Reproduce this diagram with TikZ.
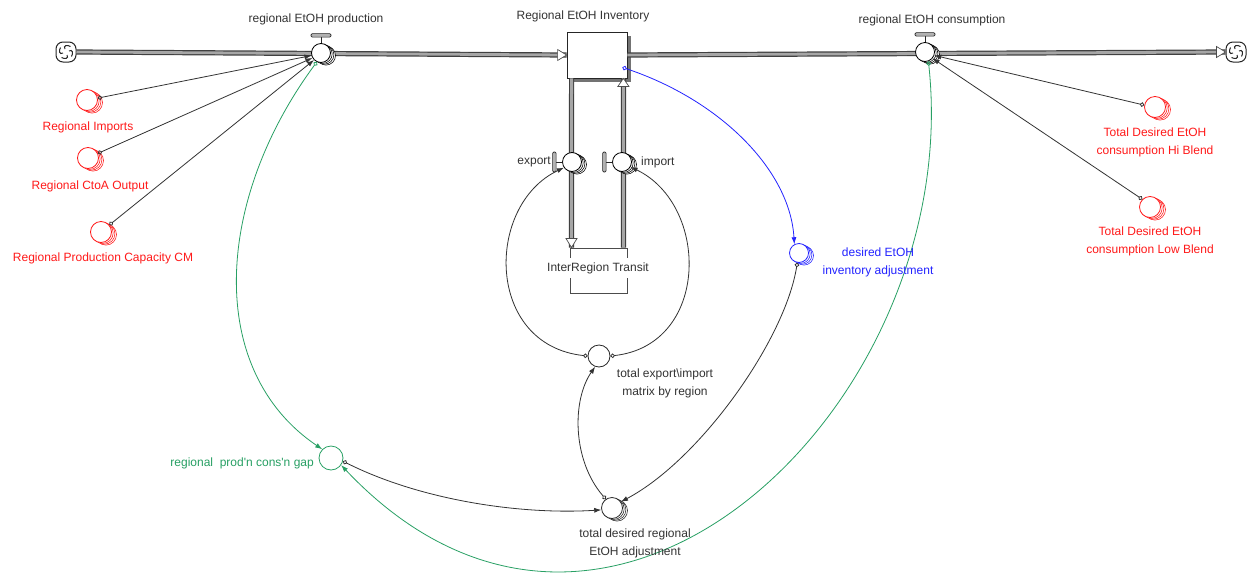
\documentclass[tikz,border=0pt]{standalone}
\usepackage{fontspec}
\setmainfont{Liberation Sans}
\usetikzlibrary{arrows.meta,calc,shadows}
\definecolor{sdgreen}{RGB}{40,160,100}
\definecolor{sdred}{RGB}{255,25,25}
\definecolor{sdblue}{RGB}{35,35,255}
\begin{document}
\begin{tikzpicture}[x=1pt,y=-1pt,
  every node/.style={font=\fontsize{12}{18}\selectfont},
  lbl/.style={align=center, inner sep=0pt, text=black!80},
  pipe/.style={draw=black!75, line width=1.2pt, double=gray!70, double distance=2.8pt},
  tipbox/.style={draw=black!70, fill=white, line width=0.7pt, line join=miter},
  shad/.style={
    copy shadow={shadow xshift=5pt,shadow yshift=-2.6pt,fill=white,draw=#1,line width=0.55pt},
    copy shadow={shadow xshift=3.4pt,shadow yshift=-1.7pt,fill=white,draw=#1,line width=0.55pt},
    copy shadow={shadow xshift=1.7pt,shadow yshift=-0.9pt,fill=white,draw=#1,line width=0.55pt}},
  valvec/.style={circle, draw=black, line width=0.8pt, fill=white, minimum size=19pt, inner sep=0pt, shad=black},
  auxc/.style={circle, draw=#1, line width=0.8pt, fill=white, minimum size=21pt, inner sep=0pt},
  cloudbox/.style={rectangle, rounded corners=7pt, draw=black!85, line width=1pt, fill=white, minimum size=20pt, inner sep=0pt},
  handle/.style={draw=black!85, fill=gray!60, line width=0.7pt, rounded corners=1.2pt},
  conn/.style={draw=black!80, line width=0.8pt, {Circle[open,length=4.5pt]}-{Latex[length=7pt,width=5pt]}},
]
\useasboundingbox (0,0) rectangle (1249,573);
\fill[white] (0,0) rectangle (1249,573);

% ---------- stocks and clouds ----------
\node[rectangle, draw=black!85, line width=0.8pt, fill=white, minimum width=60pt, minimum height=46pt,
      general shadow={shadow xshift=3.5pt, shadow yshift=-3.5pt, fill=black!55}] (inv) at (597,55) {};
\node[rectangle, draw=black!70, line width=1pt, minimum width=57pt, minimum height=45pt] (transit) at (598.5,270.5) {};
\node[cloudbox] (cloudL) at (66,52) {};
\node[cloudbox] (cloudR) at (1236,52) {};
\foreach \c in {cloudL,cloudR}{
  \foreach \a in {0,90,180,270}
    \draw[black!85, line width=1pt, shift={(\c.center)}, rotate=\a] (-1,-3) .. controls (-3,-6.5) and (1,-7.5) .. (4.5,-5.5);
}

% ---------- flow pipes ----------
\draw[pipe] (cloudL.east) -- (inv.west);
\draw[pipe] (inv.east) -- (cloudR.west);
\draw[pipe] ($(inv.south west)+(5,0)$) -- ($(transit.north west)+(2,0)$);
\draw[pipe] ($(transit.north east)+(-4,0)$) -- ($(inv.south east)+(-4,0)$);
\draw[tipbox] ($(inv.west)+(-9,-5.5)$) -- (inv.west) -- ($(inv.west)+(-9,5.5)$) -- cycle;
\draw[tipbox] ($(cloudR.west)+(-9,-5.5)$) -- (cloudR.west) -- ($(cloudR.west)+(-9,5.5)$) -- cycle;
\draw[tipbox] ($(transit.north west)+(-3.5,-9)$) -- ($(transit.north west)+(2,0)$) -- ($(transit.north west)+(7.5,-9)$) -- cycle;
\draw[tipbox] ($(inv.south east)+(-9.5,8)$) -- ($(inv.south east)+(-4,0)$) -- ($(inv.south east)+(1.5,8)$) -- cycle;
\node[lbl, fill=white, inner xsep=3pt, inner ysep=4pt] (transitlbl) at (598,268) {InterRegion Transit};

% ---------- valves ----------
\node[valvec] (valveP) at (321,53) {};
\node[valvec] (valveC) at (925,52) {};
\node[valvec] (valveE) at (572,162) {};
\node[valvec] (valveI) at (622,162) {};
\foreach \v in {valveP,valveC}{
  \draw[black!85, line width=0.8pt] (\v.north) -- ++(0,-6);
  \draw[handle] ($(\v.north)+(-10,-6)$) rectangle ++(20,-3.5);
}
\foreach \v in {valveE,valveI}{
  \draw[black!85, line width=0.8pt] (\v.west) -- ++(-6,0);
  \draw[handle] ($(\v.west)+(-6,-10)$) rectangle ++(-3.5,20);
}

% ---------- auxiliaries ----------
\node[auxc=sdred, shad=sdred] (ri) at (87,100) {};
\node[auxc=sdred, shad=sdred] (rc) at (88,158) {};
\node[auxc=sdred, shad=sdred] (rp) at (101,232) {};
\node[auxc=sdred, shad=sdred] (hb) at (1155,107) {};
\node[auxc=sdred, shad=sdred] (lb) at (1150,207) {};
\node[auxc=sdblue, shad=sdblue, minimum size=19pt] (desadj) at (799,253) {};
\node[auxc=black!85, minimum size=22pt] (matrix) at (599,356) {};
\node[auxc=black!85, shad=black!85] (totdes) at (612,508) {};
\node[auxc=sdgreen, minimum size=24pt] (gap) at (331,458) {};

% ---------- connectors ----------
\draw[conn] (ri.10) -- (valveP.195);
\draw[conn] (rc.25) -- (valveP.210);
\draw[conn] (rp.40) -- (valveP.225);
\draw[conn] (hb.170) -- (valveC.-20);
\draw[conn] (lb.135) -- (valveC.-40);
\draw[conn, draw=sdgreen] (valveP.245) .. controls (215,200) and (205,370) .. (gap.135);
\draw[conn, draw=sdgreen] (valveC.-70) .. controls (965,400) and (610,750) .. (gap.-35);
\draw[conn] (matrix.180) .. controls (485,345) and (485,205) .. (valveE.215);
\draw[conn] (matrix.0) .. controls (710,345) and (710,205) .. (valveI.-30);
\draw[conn, draw=sdblue] ($(inv.south east)+(-5,-11)$) .. controls (720,100) and (790,170) .. (desadj.118);
\draw[conn] (desadj.-100) .. controls (785,340) and (700,460) .. (totdes.35);
\draw[conn] (totdes.125) .. controls (572,460) and (572,400) .. (matrix.-110);
\draw[conn] (gap.-15) .. controls (420,500) and (520,515) .. (totdes.190);

% ---------- labels ----------
\node[lbl] (lvalveP) at (316,19) {regional EtOH production};
\node[lbl] (linv) at (583,16) {Regional EtOH Inventory};
\node[lbl] (lvalveC) at (932,20) {regional EtOH consumption};
\node[lbl, anchor=east] (lvalveE) at (551,162) {export};
\node[lbl, anchor=west] (lvalveI) at (641,162) {import};
\node[lbl] (lmatrix) at (665,383) {total export\textbackslash import\\matrix by region};
\node[lbl, text=sdblue] (ldesadj) at (878,262) {desired EtOH\\inventory adjustment};
\node[lbl] (ltotdes) at (635,543) {total desired regional\\EtOH adjustment};
\node[lbl, text=sdgreen, anchor=east] (lgap) at (314,463) {regional\ \ prod\textquotesingle n cons\textquotesingle n gap};
\node[lbl, text=sdred] (lri) at (88,127) {Regional Imports};
\node[lbl, text=sdred] (lrc) at (90,186) {Regional CtoA Output};
\node[lbl, text=sdred] (lrp) at (103,258) {Regional Production Capacity CM};
\node[lbl, text=sdred] (lhb) at (1155,142) {Total Desired EtOH\\consumption Hi Blend};
\node[lbl, text=sdred] (llb) at (1150,241) {Total Desired EtOH\\consumption Low Blend};
\end{tikzpicture}
\end{document}
